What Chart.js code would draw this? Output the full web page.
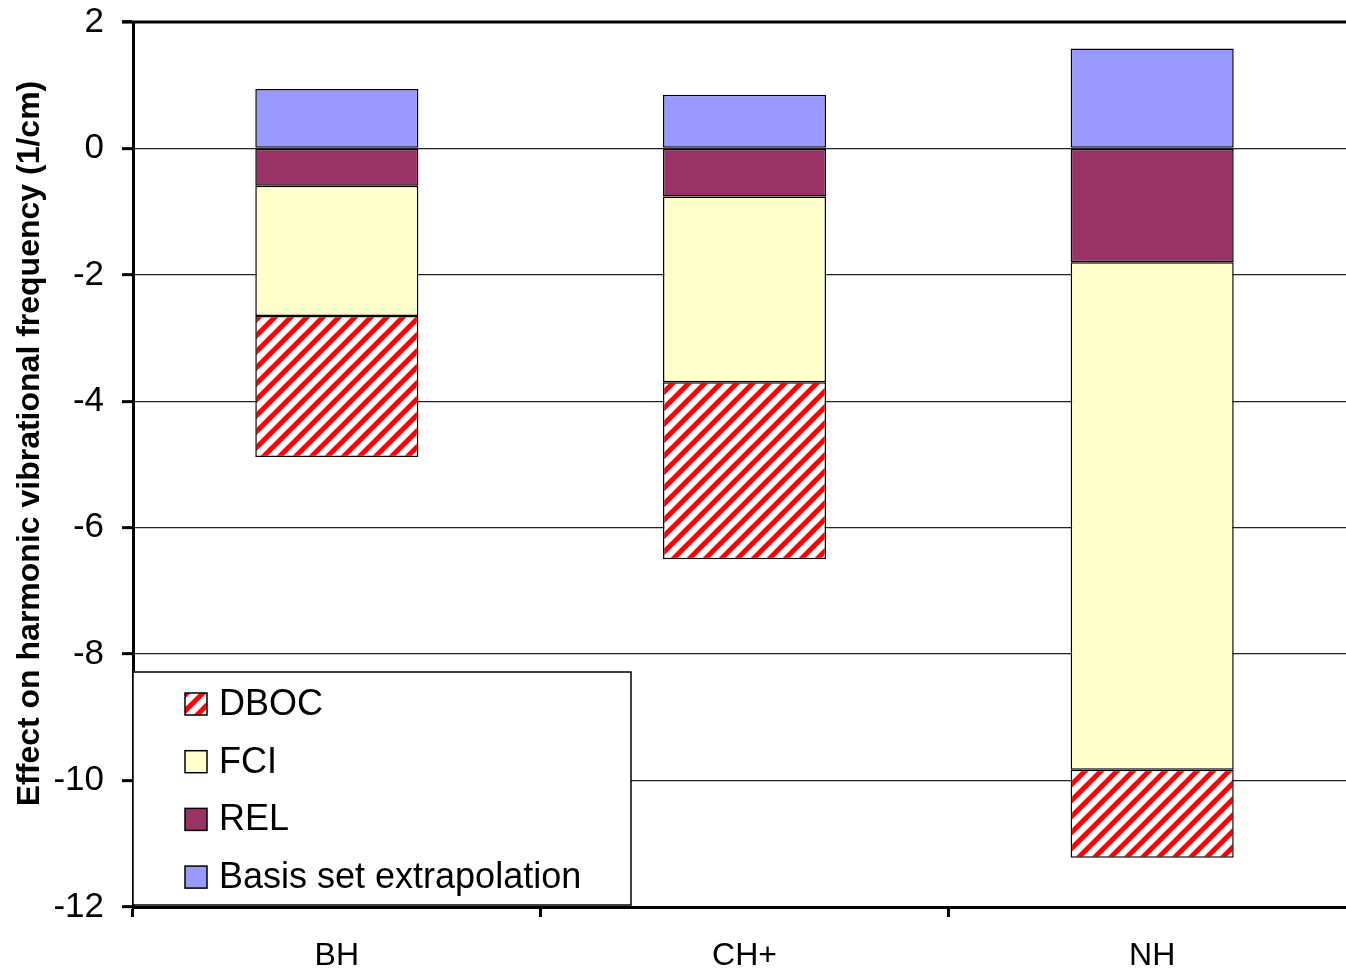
<!DOCTYPE html>
<html>
<head>
<meta charset="utf-8">
<script src="https://cdn.jsdelivr.net/npm/chart.js@4"></script>
<style>
  html, body { margin: 0; padding: 0; background: #fff; overflow: hidden; }
  #wrap { width: 1346px; height: 971px; overflow: hidden; }
  canvas { display: block; }
</style>
</head>
<body>
<div id="wrap"><canvas id="chart" width="1358" height="971"></canvas></div>
<script>
// molecules along the x axis
const molecules = ["BH", "CH+", "NH"];

// contributions in 1/cm, stacked from zero outwards
const basisSet = [0.94, 0.85, 1.58];
const rel = [-0.59, -0.76, -1.80];
const fci = [-2.06, -2.94, -8.03];
const dboc = [-2.23, -2.80, -1.39];

const yTicks = [2, 0, -2, -4, -6, -8, -10, -12];
const yTitle = "Effect on harmonic vibrational frequency (1/cm)";

const FONT = "'Liberation Sans', Arial, sans-serif";

// red / white diagonal hatching for the DBOC bars
function makeHatch() {
  const P = 16;
  const c = document.createElement("canvas");
  c.width = P; c.height = P;
  const g = c.getContext("2d");
  g.fillStyle = "#fff";
  g.fillRect(0, 0, P, P);
  g.strokeStyle = "#ff0000";
  g.lineWidth = 5;
  [0, P, 2 * P].forEach(k => {
    g.beginPath();
    g.moveTo(-2, k + 2);
    g.lineTo(P + 2, k - P - 2);
    g.stroke();
  });
  return g.createPattern(c, "repeat");
}
const hatch = makeHatch();

// frame top, axis title and the boxed legend (listed bottom-up)
const extras = {
  id: "extras",
  afterDraw(chart) {
    const ctx = chart.ctx;
    const a = chart.chartArea;
    ctx.save();

    ctx.strokeStyle = "#000";
    ctx.lineWidth = 3;
    ctx.beginPath();
    ctx.moveTo(a.left - 11, a.top);
    ctx.lineTo(a.right, a.top);
    ctx.stroke();

    // rotated y title
    ctx.save();
    ctx.translate(30, (a.top + a.bottom) / 2 - 21);
    ctx.rotate(-Math.PI / 2);
    ctx.font = "bold 32px " + FONT;
    ctx.fillStyle = "#000";
    ctx.textAlign = "center";
    ctx.textBaseline = "middle";
    ctx.fillText(yTitle, 0, 0);
    ctx.restore();

    const x0 = a.left, x1 = a.left + 498;
    const y0 = a.bottom - 235, y1 = a.bottom - 2;
    ctx.fillStyle = "#fff";
    ctx.fillRect(x0, y0, x1 - x0, y1 - y0);
    ctx.lineWidth = 1.5;
    ctx.strokeRect(x0, y0, x1 - x0, y1 - y0);

    const items = chart.data.datasets.slice().reverse();
    ctx.font = "36px " + FONT;
    ctx.textBaseline = "middle";
    items.forEach((ds, i) => {
      const cy = y0 + 32 + i * 57.7;
      ctx.fillStyle = ds.backgroundColor;
      ctx.fillRect(x0 + 52, cy - 11, 22, 22);
      ctx.strokeStyle = "#000";
      ctx.lineWidth = 1.5;
      ctx.strokeRect(x0 + 52, cy - 11, 22, 22);
      ctx.fillStyle = "#000";
      ctx.fillText(ds.label, x0 + 86, cy + 1);
    });
    ctx.restore();
  }
};

const barStyle = { borderColor: "#000", borderWidth: 1.5, borderSkipped: false };

new Chart(document.getElementById("chart"), {
  type: "bar",
  data: {
    labels: molecules,
    datasets: [
      Object.assign({ label: "Basis set extrapolation", data: basisSet, backgroundColor: "#9999ff" }, barStyle),
      Object.assign({ label: "REL", data: rel, backgroundColor: "#993366" }, barStyle),
      Object.assign({ label: "FCI", data: fci, backgroundColor: "#ffffcc" }, barStyle),
      Object.assign({ label: "DBOC", data: dboc, backgroundColor: hatch }, barStyle)
    ]
  },
  options: {
    responsive: false,
    animation: false,
    layout: { padding: { top: 22, right: 2, left: 0, bottom: 0 } },
    datasets: { bar: { barPercentage: 0.4, categoryPercentage: 1 } },
    plugins: { legend: { display: false }, tooltip: { enabled: false } },
    scales: {
      x: {
        stacked: true,
        afterFit: s => { s.height = 64; },
        border: { color: "#000", width: 3 },
        grid: { offset: true, drawOnChartArea: false, drawTicks: true, tickLength: 10, tickWidth: 3, tickColor: "#000" },
        ticks: { color: "#000", padding: 20, font: { family: FONT, size: 32 } }
      },
      y: {
        stacked: true,
        min: -12,
        max: 2,
        afterFit: s => { s.width = 133; s.paddingTop = 0; s.paddingBottom = 0; },
        afterBuildTicks: s => { s.ticks = yTicks.map(v => ({ value: v })); },
        border: { color: "#000", width: 3 },
        grid: { color: "#222", lineWidth: 1.3, tickLength: 11, tickWidth: 3, tickColor: "#000" },
        ticks: { color: "#000", padding: 18, font: { family: FONT, size: 35 } }
      }
    }
  },
  plugins: [extras]
});
</script>
</body>
</html>
